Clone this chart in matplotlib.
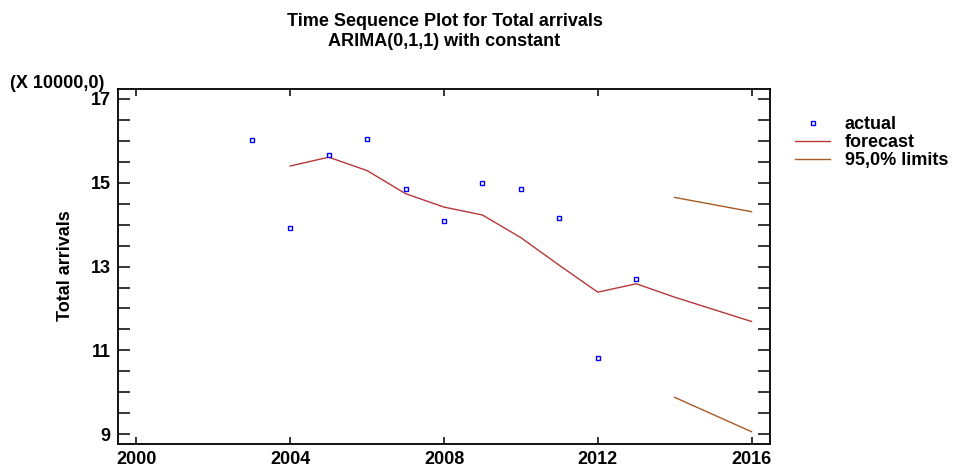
import matplotlib
matplotlib.use("Agg")
import matplotlib.pyplot as plt
from matplotlib.ticker import MultipleLocator, FixedLocator

plt.rcParams['font.family'] = ['Liberation Sans', 'DejaVu Sans']
plt.rcParams['font.weight'] = 'bold'

years_actual = [2003, 2004, 2005, 2006, 2007, 2008, 2009, 2010, 2011, 2012, 2013]
actual = [16.02, 13.92, 15.66, 16.05, 14.85, 14.08, 15.00, 14.84, 14.15, 10.81, 12.70]

years_forecast = [2004, 2005, 2006, 2007, 2008, 2009, 2010, 2011, 2012, 2013, 2014, 2015, 2016]
forecast = [15.40, 15.61, 15.29, 14.74, 14.42, 14.23, 13.69, 13.03, 12.39, 12.59, 12.27, 11.98, 11.69]

years_limits = [2014, 2015, 2016]
upper = [14.65, 14.48, 14.31]
lower = [9.88, 9.47, 9.06]

x_ticks = [2000, 2004, 2008, 2012, 2016]
y_ticks = [9, 11, 13, 15, 17]

FS = 13

fig = plt.figure(figsize=(9.62, 4.73), dpi=100)
ax = fig.add_axes([0.1227, 0.0607, 0.6777, 0.7505])

fc_color = '#b5373a'
lim_color = '#a85a28'
ax.plot(years_forecast, forecast, color=fc_color, lw=1.0, label='forecast', zorder=2)
ax.plot(years_limits, upper, color=lim_color, lw=1.0, label='95,0% limits', zorder=2)
ax.plot(years_limits, lower, color=lim_color, lw=1.0, zorder=2)
ax.plot(years_actual, actual, linestyle='none', marker='s', markersize=3.5,
        markerfacecolor='white', markeredgecolor='#0000ff', markeredgewidth=1.0,
        label='actual', zorder=3)

ax.set_xlim(1999.52, 2016.48)
ax.set_ylim(8.76, 17.23)
ax.xaxis.set_major_locator(FixedLocator(x_ticks))
ax.yaxis.set_major_locator(FixedLocator(y_ticks))
ax.yaxis.set_minor_locator(MultipleLocator(0.5))
ax.tick_params(axis='x', which='major', direction='in', length=5, width=1.1,
               top=True, bottom=True, labelsize=FS, pad=5)
ax.tick_params(axis='y', which='both', direction='in', length=8.5, width=1.1,
               left=True, right=True, labelsize=FS, pad=5.5)
for lab in ax.get_xticklabels() + ax.get_yticklabels():
    lab.set_fontweight('bold')
for sp in ax.spines.values():
    sp.set_linewidth(1.3)

fig.text(66 / 962, 1 - 266 / 473, 'Total arrivals', rotation=90, ha='center', va='center',
         fontsize=FS, fontweight='bold')
fig.text(0.462, 1 - 22 / 473, 'Time Sequence Plot for Total arrivals', ha='center', va='center',
         fontsize=FS, fontweight='bold')
fig.text(0.462, 1 - 41 / 473, 'ARIMA(0,1,1) with constant', ha='center', va='center',
         fontsize=FS, fontweight='bold')
fig.text(10 / 962, 1 - 84 / 473, '(X 10000,0)', ha='left', va='center', fontsize=FS, fontweight='bold')

handles, labels = ax.get_legend_handles_labels()
order = [labels.index('actual'), labels.index('forecast'), labels.index('95,0% limits')]
fig.legend([handles[i] for i in order], [labels[i] for i in order],
           loc='upper left', bbox_to_anchor=(0.819, 0.769), frameon=False,
           handlelength=1.95, handletextpad=0.8, labelspacing=0.05,
           borderaxespad=0, prop={'weight': 'bold', 'size': FS})

fig.savefig('out.png', dpi=100)
